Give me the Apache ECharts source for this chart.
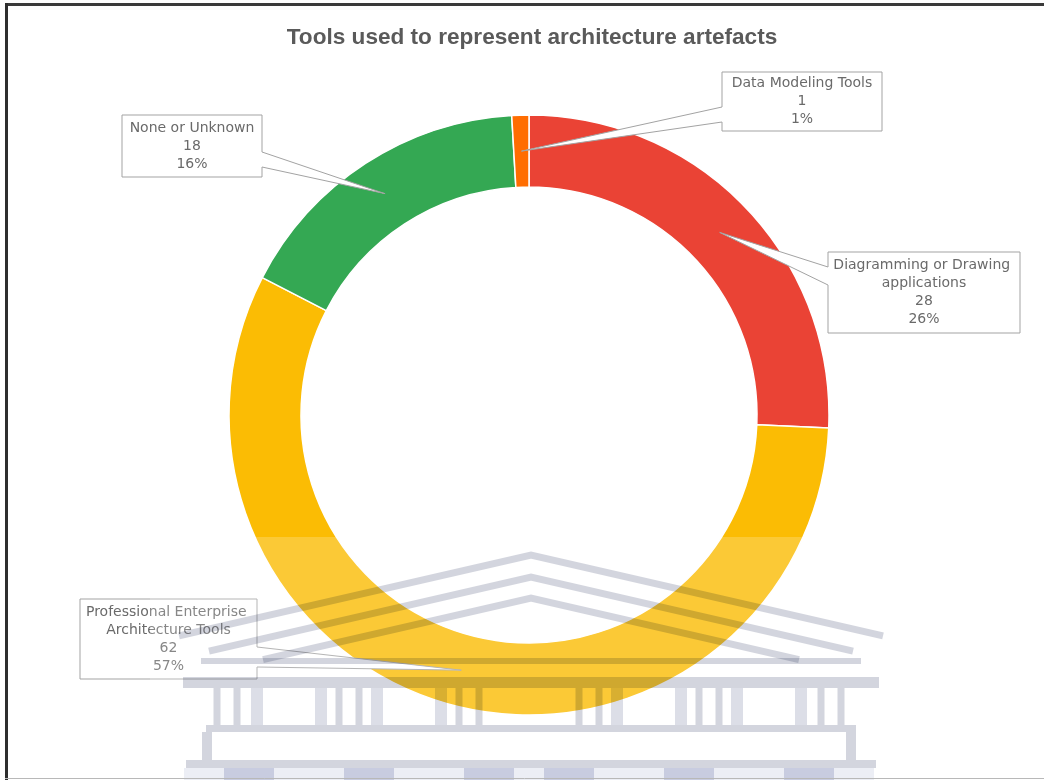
<!DOCTYPE html>
<html>
<head>
<meta charset="utf-8">
<script src="https://cdn.jsdelivr.net/npm/echarts@6/dist/echarts.min.js"></script>
<style>
  html, body { margin: 0; padding: 0; background: #ffffff; }
  #chart { width: 1044px; height: 780px; }
</style>
</head>
<body>
<div id="chart"></div>
<script>
// ---- data ----
const chartTitle = 'Tools used to represent architecture artefacts';
const categories = [
  'Diagramming or Drawing applications',
  'Professional Enterprise Architecture Tools',
  'None or Unknown',
  'Data Modeling Tools'
];
const counts = [28, 62, 18, 1];
const percentLabels = ['26%', '57%', '16%', '1%'];

// ---- styling ----
const sliceColors = ['#ea4335', '#fbbc04', '#34a853', '#ff6d01'];

// callout boxes: rectangle, the edge the pointer leaves from, and the pointer base span on that edge
const callouts = [
  { x: 828, y: 252, w: 192, h: 81, side: 'left',  b1: 267, b2: 285 },
  { x: 80,  y: 599, w: 177, h: 80, side: 'right', b1: 647, b2: 667 },
  { x: 122, y: 115, w: 140, h: 62, side: 'right', b1: 152, b2: 167 },
  { x: 722, y: 72,  w: 160, h: 59, side: 'left',  b1: 107, b2: 122 }
];

const chart = echarts.init(document.getElementById('chart'), null, { renderer: 'canvas' });

const option = {
  backgroundColor: '#ffffff',
  animation: false,
  title: {
    text: chartTitle,
    left: 527,
    top: 21,
    textAlign: 'center',
    textStyle: {
      fontFamily: 'Liberation Sans',
      fontSize: 22.6,
      fontWeight: 'bold',
      color: '#5a5a5a'
    }
  },
  series: [{
    type: 'pie',
    silent: true,
    center: [529, 415],
    radius: [228, 300],
    startAngle: 90,
    clockwise: true,
    label: { show: false },
    labelLine: { show: false },
    itemStyle: { borderColor: '#ffffff', borderWidth: 1.5 },
    data: categories.map((name, i) => ({
      name: name,
      value: counts[i],
      itemStyle: { color: sliceColors[i] }
    }))
  }]
};
chart.setOption(option);

// ---- callouts anchored on the laid-out slices ----
const sliceData = chart.getModel().getSeriesByIndex(0).getData();
const graphics = [];

categories.forEach((name, i) => {
  const lay = sliceData.getItemLayout(i);
  const mid = (lay.startAngle + lay.endAngle) / 2;
  const rm = (lay.r + lay.r0) / 2;
  const tip = [lay.cx + rm * Math.cos(mid), lay.cy + rm * Math.sin(mid)];
  const c = callouts[i];
  const x0 = c.x, y0 = c.y, x1 = c.x + c.w, y1 = c.y + c.h;
  const pts = [[x0, y0], [x1, y0]];
  if (c.side === 'right') pts.push([x1, c.b1], tip, [x1, c.b2]);
  pts.push([x1, y1], [x0, y1]);
  if (c.side === 'left') pts.push([x0, c.b2], tip, [x0, c.b1]);
  graphics.push({
    type: 'polygon',
    z: 10,
    shape: { points: pts },
    style: { fill: '#ffffff', stroke: '#a3a3a3', lineWidth: 1 }
  });
  graphics.push({
    type: 'text',
    z: 11,
    style: {
      text: name + '\n' + counts[i] + '\n' + percentLabels[i],
      x: c.x + c.w / 2,
      y: c.y + c.h / 2,
      width: c.w - 8,
      overflow: 'break',
      align: 'center',
      verticalAlign: 'middle',
      font: '14px "DejaVu Sans"',
      lineHeight: 18,
      fill: '#6a6a6a'
    }
  });
});

// ---- faint building emblem laid over the lower part of the page ----
const WM = '#d3d5de';
const WM2 = '#dcdee7';
const soft = { blend: 'multiply' };
const bx = 531;
graphics.push({
  type: 'rect', z: 20,
  shape: { x: 150, y: 537, width: 780, height: 243 },
  style: { fill: 'rgba(255,255,255,0.2)' }
});
const roof = [
  { apex: 555, half: 352 },
  { apex: 577, half: 322 },
  { apex: 598, half: 268 }
];
roof.forEach(r => {
  graphics.push({
    type: 'polyline', z: 21,
    shape: { points: [[bx - r.half, r.apex + 0.23 * r.half], [bx, r.apex], [bx + r.half, r.apex + 0.23 * r.half]] },
    style: Object.assign({ stroke: WM, lineWidth: 7, fill: null }, soft)
  });
});
const bands = [
  { y: 658, h: 6,  half: 330 },
  { y: 677, h: 11, half: 348 },
  { y: 725, h: 7,  half: 325 },
  { y: 760, h: 8,  half: 345 }
];
bands.forEach(b => {
  graphics.push({
    type: 'rect', z: 21,
    shape: { x: bx - b.half, y: b.y, width: 2 * b.half, height: b.h },
    style: Object.assign({ fill: WM }, soft)
  });
});
const columnOffsets = [50, 70, 170, 190, 292, 312];
const frameOffsets = [88, 152, 208, 272];
[-1, 1].forEach(s => {
  columnOffsets.forEach(o => {
    graphics.push({
      type: 'rect', z: 21,
      shape: { x: 529 + s * o - 3.5, y: 688, width: 7, height: 37 },
      style: Object.assign({ fill: WM }, soft)
    });
  });
  frameOffsets.forEach(o => {
    graphics.push({
      type: 'rect', z: 21,
      shape: { x: 529 + s * o - 6, y: 688, width: 12, height: 37 },
      style: Object.assign({ fill: WM2 }, soft)
    });
  });
  graphics.push({
    type: 'rect', z: 21,
    shape: { x: 529 + s * 322 - 5, y: 732, width: 10, height: 28 },
    style: Object.assign({ fill: WM }, soft)
  });
  [40, 160, 280].forEach(o => {
    graphics.push({
      type: 'rect', z: 21,
      shape: { x: 529 + s * o - 25, y: 768, width: 50, height: 12 },
      style: Object.assign({ fill: '#d8dbea' }, soft)
    });
  });
});
graphics.push({
  type: 'rect', z: 21,
  shape: { x: 529 - 345, y: 768, width: 690, height: 12 },
  style: { fill: '#eceef5', blend: 'multiply' }
});

// ---- page frame ----
graphics.push(
  { type: 'line', z: 30, shape: { x1: 5, y1: 4.5, x2: 1044, y2: 4.5 }, style: { stroke: '#3a3a3a', lineWidth: 3 } },
  { type: 'line', z: 30, shape: { x1: 6.5, y1: 3, x2: 6.5, y2: 780 }, style: { stroke: '#2e2e2e', lineWidth: 3 } },
  { type: 'line', z: 30, shape: { x1: 5, y1: 778.5, x2: 1044, y2: 778.5 }, style: { stroke: '#b8b8b8', lineWidth: 1 } }
);

chart.setOption({ graphic: { elements: graphics } });
</script>
</body>
</html>
